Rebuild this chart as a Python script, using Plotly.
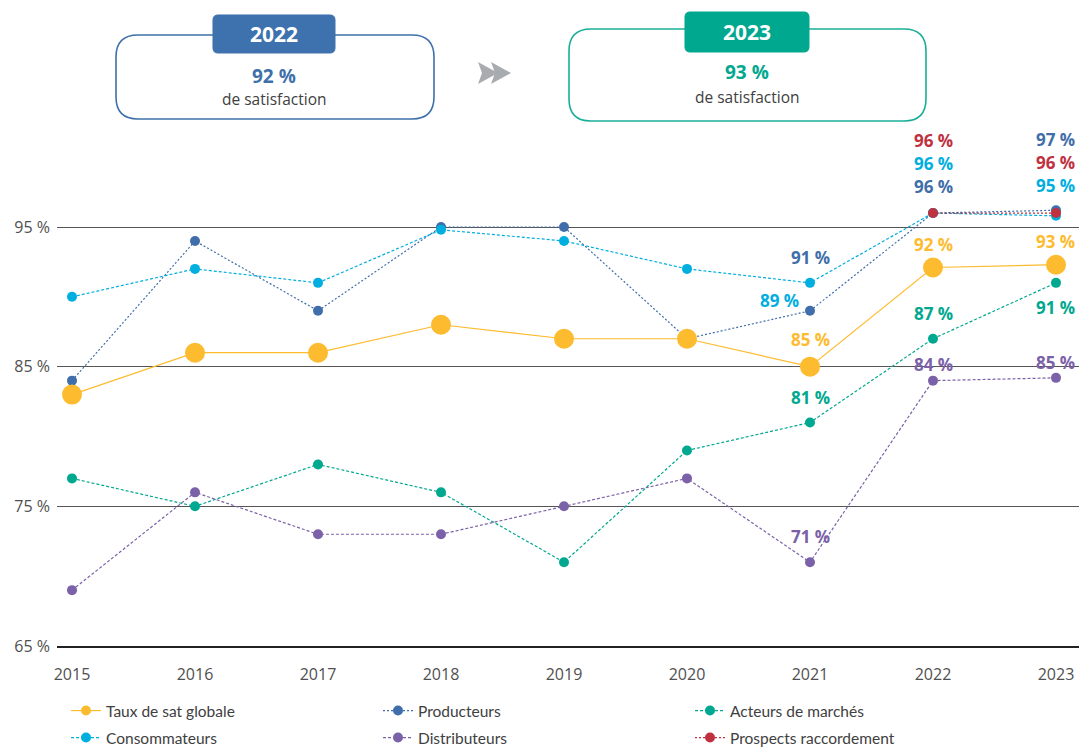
import plotly.graph_objects as go

# ---------------- data ----------------
years = [2015, 2016, 2017, 2018, 2019, 2020, 2021, 2022, 2023]
taux_global = [83, 86, 86, 88, 87, 87, 85, 92.1, 92.3]
producteurs = [84, 94, 89, 95, 95, 87, 89, 96, 96.2]
consommateurs = [90, 92, 91, 94.8, 94, 92, 91, 96, 95.8]
acteurs = [77, 75, 78, 76, 71, 79, 81, 87, 91]
distributeurs = [69, 76, 73, 73, 75, 77, 71, 84, 84.2]
prospects_years = [2022, 2023]
prospects = [96, 96]

y_ticks = [65, 75, 85, 95]
y_tick_text = ["65 %", "75 %", "85 %", "95 %"]

header_years = ["2022", "2023"]
header_values = ["92 %", "93 %"]
header_sub = "de satisfaction"

# ---------------- styles ----------------
C_YEL = "#FDBB2F"
C_BLU = "#3F6EAA"
C_CYA = "#00AEDF"
C_TEA = "#00A88F"
C_PUR = "#7B61A8"
C_RED = "#C0313F"
C_GRAY = "#505050"

FONT = "Open Sans"

OFF = 0  # body margin is removed by the post script below
W, H = 1079 - OFF, 748 - OFF

fig = go.Figure()

def add(name, xs, ys, color, legend, rank, dash="3px,2px", width=1.2, msize=10,
        showlegend=True):
    fig.add_trace(go.Scatter(
        x=xs, y=ys, name=name, mode="lines+markers",
        line=dict(color=color, width=width, dash=dash),
        marker=dict(color=color, size=msize),
        legend=legend, legendrank=rank, showlegend=showlegend,
        hoverinfo="skip"))

add("Producteurs", years, producteurs, C_BLU, "legend", 2, dash="2px,2px")
add("Consommateurs", years, consommateurs, C_CYA, "legend2", 1)
add("Acteurs de marchés", years, acteurs, C_TEA, "legend", 3)
add("Distributeurs", years, distributeurs, C_PUR, "legend2", 2)
add("Taux de sat globale", years, taux_global, C_YEL, "legend", 1, dash="solid",
    msize=20, showlegend=False)
add("Prospects raccordement", prospects_years, prospects, C_RED, "legend2", 3, dash="2px,2px")
# legend entry for the global rate with a small marker (as in the reference legend)
fig.add_trace(go.Scatter(x=[None], y=[None], name="Taux de sat globale",
                         mode="lines+markers", line=dict(color=C_YEL, width=1.2),
                         marker=dict(color=C_YEL, size=10), legend="legend",
                         legendrank=1, hoverinfo="skip"))

# ---------------- data labels ----------------
# (x, anchor y value, text, color, yshift px, xshift px)
labels = [
    (2021, taux_global[6], "85 %", C_YEL, 27, 0),
    (2021, consommateurs[6], "91 %", C_BLU, 25, 0),
    (2021, producteurs[6], "89 %", C_CYA, 10, -31),
    (2021, acteurs[6], "81 %", C_TEA, 25, 0),
    (2021, distributeurs[6], "71 %", C_PUR, 26, 0),
    (2022, prospects[0], "96 %", C_RED, 73, 0),
    (2022, prospects[0], "96 %", C_CYA, 50, 0),
    (2022, prospects[0], "96 %", C_BLU, 27, 0),
    (2022, taux_global[7], "92 %", C_YEL, 23, 0),
    (2022, acteurs[7], "87 %", C_TEA, 25, 0),
    (2022, distributeurs[7], "84 %", C_PUR, 16, 0),
    (2023, producteurs[8], "97 %", C_BLU, 71, -1),
    (2023, producteurs[8], "96 %", C_RED, 48, -1),
    (2023, producteurs[8], "95 %", C_CYA, 25, -1),
    (2023, taux_global[8], "93 %", C_YEL, 23, -1),
    (2023, acteurs[8], "91 %", C_TEA, -25, -1),
    (2023, distributeurs[8], "85 %", C_PUR, 15, -1),
]
for x, y, t, c, ys, xs in labels:
    fig.add_annotation(x=x, y=y, text=f"<b>{t}</b>", showarrow=False,
                       yshift=ys, xshift=xs,
                       font=dict(family=FONT, size=17, color=c))

# ---------------- header boxes (window pixel helpers -> paper coords) ----------------
L, R, T, B = 57, 1079, 130, 646   # plot area in window pixels
def px(X):
    return (X - L) / (R - L)
def py(Y):
    return (B - Y) / (B - T)

def rrect(x0, y0, x1, y1, r):
    pts = [
        ("M", (x0 + r, y0)), ("L", (x1 - r, y0)), ("Q", (x1, y0), (x1, y0 + r)),
        ("L", (x1, y1 - r)), ("Q", (x1, y1), (x1 - r, y1)),
        ("L", (x0 + r, y1)), ("Q", (x0, y1), (x0, y1 - r)),
        ("L", (x0, y0 + r)), ("Q", (x0, y0), (x0 + r, y0)),
    ]
    s = ""
    for p in pts:
        coords = " ".join(f"{px(a):.5f},{py(b):.5f}" for a, b in p[1:])
        s += f"{p[0]} {coords} "
    return s + "Z"

boxes = [
    dict(box=(116, 35, 434, 119), tab=(213, 15, 335, 53), color="#3E70AA", fill="#3E72AE",
         cx=274, year=header_years[0], val=header_values[0], valc="#3E70AA",
         ty=34, vy=76, sy=99),
    dict(box=(569, 29, 926, 121), tab=(685, 12, 809, 52), color="#1AAE98", fill="#00A88F",
         cx=747, year=header_years[1], val=header_values[1], valc="#00A88F",
         ty=32, vy=72, sy=97),
]
for b in boxes:
    fig.add_shape(type="path", path=rrect(*b["box"], 22), xref="paper", yref="paper",
                  line=dict(color=b["color"], width=1.6), fillcolor="white", layer="above")
    fig.add_shape(type="path", path=rrect(*b["tab"], 5), xref="paper", yref="paper",
                  line=dict(color=b["fill"], width=1), fillcolor=b["fill"], layer="above")
    for text, yy, size, col in ((f"<b>{b['year']}</b>", b["ty"], 21, "white"),
                                (f"<b>{b['val']}</b>", b["vy"], 19, b["valc"]),
                                (header_sub, b["sy"], 15.5, "#404040")):
        fig.add_annotation(x=px(b["cx"]), y=py(yy), xref="paper", yref="paper",
                           xanchor="center", yanchor="middle",
                           text=text, showarrow=False,
                           font=dict(family=FONT, size=size, color=col))

# double chevron arrow
for dx in (0, 13):
    x0 = 478 + dx
    path = (f"M {px(x0):.5f},{py(62):.5f} L {px(x0 + 20):.5f},{py(73):.5f} "
            f"L {px(x0):.5f},{py(84):.5f} L {px(x0 + 4):.5f},{py(73):.5f} Z")
    fig.add_shape(type="path", path=path, xref="paper", yref="paper",
                  line=dict(width=0), fillcolor="#A9ACAE", layer="above")

# ---------------- layout ----------------
yr_top = 95 + (227 - T) / ((646 - 227) / 30)
leg_common = dict(orientation="h", xref="container", yref="container",
                  xanchor="left", yanchor="middle",
                  entrywidth=267, entrywidthmode="pixels",
                  font=dict(family="Lato", size=15.5, color="#404040"),
                  bgcolor="rgba(0,0,0,0)")
fig.update_layout(
    width=W, height=H,
    margin=dict(l=L - OFF, r=1079 - R, t=T - OFF, b=748 - B, autoexpand=False),
    paper_bgcolor="white", plot_bgcolor="white",
    font=dict(family=FONT, color=C_GRAY),
    showlegend=True,
    legend=dict(x=(66 - OFF) / W, y=1 - (711 - OFF) / H, **leg_common),
    legend2=dict(x=(66 - OFF) / W, y=1 - (738 - OFF) / H, **leg_common),
    xaxis=dict(range=[2015 - 15 / 123, 2023 + 23 / 123], tickvals=years,
               showgrid=False, zeroline=False, showline=True, linecolor="#222",
               linewidth=1.8, ticks="", tickfont=dict(size=16, color=C_GRAY),
               ticklabelstandoff=13, fixedrange=True),
    yaxis=dict(range=[65, yr_top], tickvals=y_ticks, ticktext=y_tick_text,
               showgrid=True, gridcolor="#555", gridwidth=1.2, zeroline=False,
               showline=False, tickfont=dict(size=16, color=C_GRAY),
               ticklabelstandoff=6, fixedrange=True),
)

fig.write_html(
    "out.html",
    config={"displayModeBar": False},
    post_script="document.body.style.margin='0';document.body.style.overflow='hidden';",
)
